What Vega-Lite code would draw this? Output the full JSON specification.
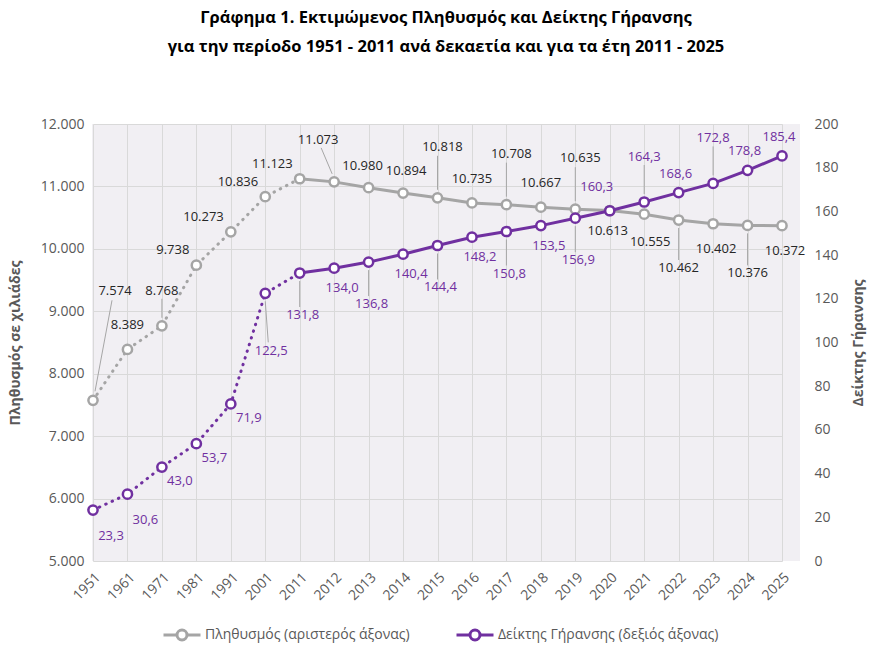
{
  "$schema": "https://vega.github.io/schema/vega-lite/v6.json",
  "width": 708,
  "height": 437,
  "autosize": {"type": "none"},
  "padding": {"left": 92, "top": 124, "right": 80, "bottom": 86},
  "title": {
    "text": ["Γράφημα 1. Εκτιμώμενος Πληθυσμός και Δείκτης Γήρανσης", "για την περίοδο 1951 - 2011 ανά δεκαετία και για τα έτη 2011 - 2025"],
    "anchor": "middle",
    "font": "Open Sans",
    "fontSize": 16.5,
    "fontWeight": "bold",
    "color": "#000000",
    "lineHeight": 29,
    "offset": 62
  },
  "data": {
    "values": [
      {"year": 1951, "pop": 7574, "idx": 23.3},
      {"year": 1961, "pop": 8389, "idx": 30.6},
      {"year": 1971, "pop": 8768, "idx": 43.0},
      {"year": 1981, "pop": 9738, "idx": 53.7},
      {"year": 1991, "pop": 10273, "idx": 71.9},
      {"year": 2001, "pop": 10836, "idx": 122.5},
      {"year": 2011, "pop": 11123, "idx": 131.8},
      {"year": 2012, "pop": 11073, "idx": 134.0},
      {"year": 2013, "pop": 10980, "idx": 136.8},
      {"year": 2014, "pop": 10894, "idx": 140.4},
      {"year": 2015, "pop": 10818, "idx": 144.4},
      {"year": 2016, "pop": 10735, "idx": 148.2},
      {"year": 2017, "pop": 10708, "idx": 150.8},
      {"year": 2018, "pop": 10667, "idx": 153.5},
      {"year": 2019, "pop": 10635, "idx": 156.9},
      {"year": 2020, "pop": 10613, "idx": 160.3},
      {"year": 2021, "pop": 10555, "idx": 164.3},
      {"year": 2022, "pop": 10462, "idx": 168.6},
      {"year": 2023, "pop": 10402, "idx": 172.8},
      {"year": 2024, "pop": 10376, "idx": 178.8},
      {"year": 2025, "pop": 10372, "idx": 185.4}
    ]
  },
  "encoding": {
    "x": {
      "field": "year",
      "type": "ordinal",
      "title": null,
      "scale": {"type": "point", "range": [1, 690], "padding": 0},
      "axis": {"labelAngle": -45, "labelFontSize": 14, "grid": true, "labelPadding": 9}
    }
  },
  "layer": [
    {
      "encoding": {
        "y": {
          "field": "pop",
          "type": "quantitative",
          "scale": {"domain": [5000, 12000]},
          "axis": {
            "title": "Πληθυσμός σε χιλιάδες",
            "values": [5000, 6000, 7000, 8000, 9000, 10000, 11000, 12000],
            "format": ",.0f",
            "grid": true,
            "labelPadding": 8,
            "titlePadding": 18
          }
        }
      },
      "layer": [
        {
          "transform": [{"filter": "datum.year <= 2011"}],
          "mark": {"type": "line", "strokeWidth": 3, "strokeDash": [0.5, 6.5], "strokeCap": "round"},
          "encoding": {
            "color": {
              "datum": "Πληθυσμός (αριστερός άξονας)",
              "type": "nominal",
              "scale": {
                "domain": ["Πληθυσμός (αριστερός άξονας)", "Δείκτης Γήρανσης (δεξιός άξονας)"],
                "range": ["#A5A5A5", "#7030A0"]
              },
              "legend": {
                "orient": "none",
                "legendX": 70,
                "legendY": 491,
                "direction": "horizontal",
                "title": null,
                "symbolType": "M-1,0L-0.27,0M0.27,0L1,0M-0.27,0A0.27,0.27,0,1,0,0.27,0A0.27,0.27,0,1,0,-0.27,0",
                "symbolSize": 1369,
                "symbolStrokeWidth": 3,
                "symbolFillColor": "white",
                "labelFontSize": 14,
                "labelColor": "#595959",
                "labelOffset": 3,
                "labelLimit": 400,
                "columnPadding": 40
              }
            }
          }
        },
        {
          "transform": [{"filter": "datum.year >= 2011"}],
          "mark": {"type": "line", "strokeWidth": 3},
          "encoding": {
            "color": {"datum": "Πληθυσμός (αριστερός άξονας)", "type": "nominal"}
          }
        },
        {
          "mark": {"type": "point", "shape": "circle", "filled": true, "fill": "white", "stroke": "#A5A5A5", "strokeWidth": 2.5, "size": 85, "opacity": 1}
        },
        {
          "transform": [{"filter": {"field": "year", "oneOf": [1971]}}],
          "mark": {"type": "rule", "color": "#A6A6A6", "strokeWidth": 1, "yOffset": -8, "y2Offset": -27},
          "encoding": {"y2": {"field": "pop"}}
        },
        {
          "transform": [{"filter": {"field": "year", "oneOf": [2015, 2017, 2019]}}],
          "mark": {"type": "rule", "color": "#A6A6A6", "strokeWidth": 1, "yOffset": -8, "y2Offset": -42},
          "encoding": {"y2": {"field": "pop"}}
        },
        {
          "transform": [{"filter": {"field": "year", "oneOf": [2012]}}],
          "mark": {"type": "rule", "color": "#A6A6A6", "strokeWidth": 1, "xOffset": -2, "yOffset": -8, "x2Offset": -13, "y2Offset": -34},
          "encoding": {"x2": {"field": "year"}, "y2": {"field": "pop"}}
        },
        {
          "transform": [{"filter": {"field": "year", "oneOf": [2022, 2024]}}],
          "mark": {"type": "rule", "color": "#A6A6A6", "strokeWidth": 1, "yOffset": 8, "y2Offset": 40},
          "encoding": {"y2": {"field": "pop"}}
        },
        {
          "transform": [{"filter": {"field": "year", "oneOf": [1951]}}],
          "mark": {"type": "rule", "color": "#A6A6A6", "strokeWidth": 1, "xOffset": 2, "yOffset": -9, "x2Offset": 19, "y2Offset": -100},
          "encoding": {"x2": {"field": "year"}, "y2": {"field": "pop"}}
        },
        {
          "transform": [{"filter": {"field": "year", "oneOf": [1961, 2016, 2018]}}],
          "mark": {"type": "text", "fontSize": 13, "color": "#262626", "baseline": "middle", "dy": -24},
          "encoding": {"text": {"field": "pop", "type": "quantitative", "format": ",.0f"}}
        },
        {
          "transform": [{"filter": {"field": "year", "oneOf": [2013]}}],
          "mark": {"type": "text", "fontSize": 13, "color": "#262626", "baseline": "middle", "dx": -6, "dy": -22},
          "encoding": {"text": {"field": "pop", "type": "quantitative", "format": ",.0f"}}
        },
        {
          "transform": [{"filter": {"field": "year", "oneOf": [2014]}}],
          "mark": {"type": "text", "fontSize": 13, "color": "#262626", "baseline": "middle", "dx": 3, "dy": -22},
          "encoding": {"text": {"field": "pop", "type": "quantitative", "format": ",.0f"}}
        },
        {
          "transform": [{"filter": {"field": "year", "oneOf": [1971]}}],
          "mark": {"type": "text", "fontSize": 13, "color": "#262626", "baseline": "middle", "dy": -35},
          "encoding": {"text": {"field": "pop", "type": "quantitative", "format": ",.0f"}}
        },
        {
          "transform": [{"filter": {"field": "year", "oneOf": [2015, 2017, 2019]}}],
          "mark": {"type": "text", "fontSize": 13, "color": "#262626", "baseline": "middle", "dx": 5, "dy": -51},
          "encoding": {"text": {"field": "pop", "type": "quantitative", "format": ",.0f"}}
        },
        {
          "transform": [{"filter": {"field": "year", "oneOf": [2012]}}],
          "mark": {"type": "text", "fontSize": 13, "color": "#262626", "baseline": "middle", "dx": -16, "dy": -42},
          "encoding": {"text": {"field": "pop", "type": "quantitative", "format": ",.0f"}}
        },
        {
          "transform": [{"filter": {"field": "year", "oneOf": [1981, 1991, 2001, 2011]}}],
          "mark": {"type": "text", "fontSize": 13, "color": "#262626", "baseline": "middle", "align": "right", "dx": -7, "dy": -15},
          "encoding": {"text": {"field": "pop", "type": "quantitative", "format": ",.0f"}}
        },
        {
          "transform": [{"filter": {"field": "year", "oneOf": [1951]}}],
          "mark": {"type": "text", "fontSize": 13, "color": "#262626", "baseline": "middle", "dx": 22, "dy": -109},
          "encoding": {"text": {"field": "pop", "type": "quantitative", "format": ",.0f"}}
        },
        {
          "transform": [{"filter": {"field": "year", "oneOf": [2020]}}],
          "mark": {"type": "text", "fontSize": 13, "color": "#262626", "baseline": "middle", "dx": -2, "dy": 20},
          "encoding": {"text": {"field": "pop", "type": "quantitative", "format": ",.0f"}}
        },
        {
          "transform": [{"filter": {"field": "year", "oneOf": [2021]}}],
          "mark": {"type": "text", "fontSize": 13, "color": "#262626", "baseline": "middle", "dx": 6, "dy": 28},
          "encoding": {"text": {"field": "pop", "type": "quantitative", "format": ",.0f"}}
        },
        {
          "transform": [{"filter": {"field": "year", "oneOf": [2023, 2025]}}],
          "mark": {"type": "text", "fontSize": 13, "color": "#262626", "baseline": "middle", "dx": 3, "dy": 25},
          "encoding": {"text": {"field": "pop", "type": "quantitative", "format": ",.0f"}}
        },
        {
          "transform": [{"filter": {"field": "year", "oneOf": [2022, 2024]}}],
          "mark": {"type": "text", "fontSize": 13, "color": "#262626", "baseline": "middle", "dy": 48},
          "encoding": {"text": {"field": "pop", "type": "quantitative", "format": ",.0f"}}
        }
      ]
    },
    {
      "encoding": {
        "y": {
          "field": "idx",
          "type": "quantitative",
          "scale": {"domain": [0, 200]},
          "axis": {
            "orient": "right",
            "title": "Δείκτης Γήρανσης",
            "titleAngle": 270,
            "values": [0, 20, 40, 60, 80, 100, 120, 140, 160, 180, 200],
            "grid": false,
            "labelPadding": 14,
            "titlePadding": 27
          }
        }
      },
      "layer": [
        {
          "transform": [{"filter": "datum.year <= 2011"}],
          "mark": {"type": "line", "strokeWidth": 3, "strokeDash": [0.5, 6.5], "strokeCap": "round"},
          "encoding": {
            "color": {"datum": "Δείκτης Γήρανσης (δεξιός άξονας)", "type": "nominal"}
          }
        },
        {
          "transform": [{"filter": "datum.year >= 2011"}],
          "mark": {"type": "line", "strokeWidth": 3},
          "encoding": {
            "color": {"datum": "Δείκτης Γήρανσης (δεξιός άξονας)", "type": "nominal"}
          }
        },
        {
          "mark": {"type": "point", "shape": "circle", "filled": true, "fill": "white", "stroke": "#7030A0", "strokeWidth": 2.5, "size": 85, "opacity": 1}
        },
        {
          "transform": [{"filter": {"field": "year", "oneOf": [2011, 2013, 2015, 2017, 2019]}}],
          "mark": {"type": "rule", "color": "#A6A6A6", "strokeWidth": 1, "yOffset": 8, "y2Offset": 34},
          "encoding": {"y2": {"field": "idx"}}
        },
        {
          "transform": [{"filter": {"field": "year", "oneOf": [2001]}}],
          "mark": {"type": "rule", "color": "#A6A6A6", "strokeWidth": 1, "yOffset": 8, "y2Offset": 49, "x2Offset": 3},
          "encoding": {"x2": {"field": "year"}, "y2": {"field": "idx"}}
        },
        {
          "transform": [{"filter": {"field": "year", "oneOf": [2021, 2023]}}],
          "mark": {"type": "rule", "color": "#A6A6A6", "strokeWidth": 1, "yOffset": -8, "y2Offset": -37},
          "encoding": {"y2": {"field": "idx"}}
        },
        {
          "transform": [{"filter": {"field": "year", "oneOf": [1951, 1961]}}],
          "mark": {"type": "text", "fontSize": 13, "color": "#7030A0", "baseline": "middle", "dx": 18, "dy": 26},
          "encoding": {"text": {"field": "idx", "type": "quantitative", "format": ".1f"}}
        },
        {
          "transform": [{"filter": {"field": "year", "oneOf": [1971, 1981, 1991]}}],
          "mark": {"type": "text", "fontSize": 13, "color": "#7030A0", "baseline": "middle", "dx": 18, "dy": 14},
          "encoding": {"text": {"field": "idx", "type": "quantitative", "format": ".1f"}}
        },
        {
          "transform": [{"filter": {"field": "year", "oneOf": [2012, 2014, 2016, 2018]}}],
          "mark": {"type": "text", "fontSize": 13, "color": "#7030A0", "baseline": "middle", "dx": 8, "dy": 20},
          "encoding": {"text": {"field": "idx", "type": "quantitative", "format": ".1f"}}
        },
        {
          "transform": [{"filter": {"field": "year", "oneOf": [2011, 2013, 2015, 2017, 2019]}}],
          "mark": {"type": "text", "fontSize": 13, "color": "#7030A0", "baseline": "middle", "dx": 3, "dy": 42},
          "encoding": {"text": {"field": "idx", "type": "quantitative", "format": ".1f"}}
        },
        {
          "transform": [{"filter": {"field": "year", "oneOf": [2001]}}],
          "mark": {"type": "text", "fontSize": 13, "color": "#7030A0", "baseline": "middle", "dx": 6, "dy": 58},
          "encoding": {"text": {"field": "idx", "type": "quantitative", "format": ".1f"}}
        },
        {
          "transform": [{"filter": {"field": "year", "oneOf": [2020]}}],
          "mark": {"type": "text", "fontSize": 13, "color": "#7030A0", "baseline": "middle", "dx": -13, "dy": -24},
          "encoding": {"text": {"field": "idx", "type": "quantitative", "format": ".1f"}}
        },
        {
          "transform": [{"filter": {"field": "year", "oneOf": [2022, 2024, 2025]}}],
          "mark": {"type": "text", "fontSize": 13, "color": "#7030A0", "baseline": "middle", "dx": -3, "dy": -19},
          "encoding": {"text": {"field": "idx", "type": "quantitative", "format": ".1f"}}
        },
        {
          "transform": [{"filter": {"field": "year", "oneOf": [2021, 2023]}}],
          "mark": {"type": "text", "fontSize": 13, "color": "#7030A0", "baseline": "middle", "dy": -45},
          "encoding": {"text": {"field": "idx", "type": "quantitative", "format": ".1f"}}
        }
      ]
    }
  ],
  "resolve": {"scale": {"y": "independent"}},
  "config": {
    "locale": {"number": {"decimal": ",", "thousands": ".", "grouping": [3], "currency": ["", " €"]}},
    "font": "Open Sans",
    "background": "white",
    "view": {"fill": "#F1EFF3", "stroke": null},
    "axis": {
      "labelColor": "#595959",
      "labelFontSize": 14,
      "titleColor": "#595959",
      "titleFontSize": 14,
      "titleFontWeight": "bold",
      "domain": false,
      "ticks": false,
      "gridColor": "#D9D9D9",
      "gridWidth": 1
    }
  }
}
